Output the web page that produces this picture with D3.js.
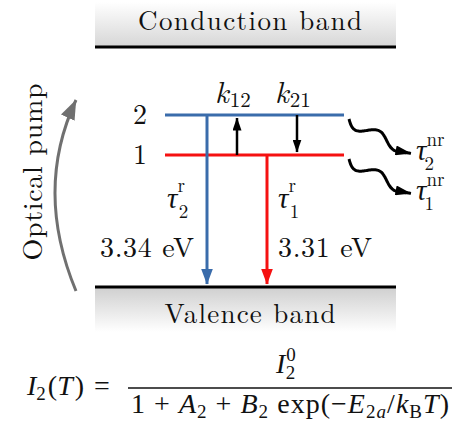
<!DOCTYPE html>
<meta charset="utf-8">
<script src="https://d3js.org/d3.v7.min.js"></script>
<style>
  body { margin: 0; background: #fff; }
</style>
<div id="my_dataviz"></div>
<script>

// data
var bands = ["Conduction band", "Valence band"];
var levels = ["2", "1"];
var levelColors = ["#3a6cab", "#f51111"];
var radiative = [
  {level: "2", col: "r2", tau: "2", energy: "3.34 eV"},
  {level: "1", col: "r1", tau: "1", energy: "3.31 eV"}
];
var transfer = [
  {name: "12", col: "k12", from: "1", to: "2"},
  {name: "21", col: "k21", from: "2", to: "1"}
];
var nonRadiative = ["2", "1"];
var columns = ["r2", "k12", "r1", "k21"];

var width = 452, height = 424;
var cm = "'Latin Modern Roman', 'Liberation Serif', serif";
var eqFont = "'Liberation Serif', 'Latin Modern Roman', serif";
var greek = "'Liberation Serif', 'DejaVu Serif', serif";

var svg = d3.select("#my_dataviz")
  .append("svg")
    .attr("width", width)
    .attr("height", height);

// scales
var y = d3.scaleOrdinal()
  .domain(["Conduction band", "2", "1", "Valence band"])
  .range([47, 115, 155, 287]);
var x = d3.scalePoint()
  .domain(columns)
  .range([207, 297]);
var color = d3.scaleOrdinal().domain(levels).range(levelColors);

var defs = svg.append("defs");

// band gradients
var g1 = defs.append("linearGradient").attr("id", "cbGrad")
  .attr("x1", 0).attr("y1", 0).attr("x2", 0).attr("y2", 1);
g1.append("stop").attr("offset", "0%").attr("stop-color", "#ffffff");
g1.append("stop").attr("offset", "100%").attr("stop-color", "#d6d6d6");
var g2 = defs.append("linearGradient").attr("id", "vbGrad")
  .attr("x1", 0).attr("y1", 0).attr("x2", 0).attr("y2", 1);
g2.append("stop").attr("offset", "0%").attr("stop-color", "#cfcfcf");
g2.append("stop").attr("offset", "100%").attr("stop-color", "#ffffff");

svg.append("rect")
  .attr("x", 95).attr("y", 2).attr("width", 301).attr("height", y("Conduction band") - 2)
  .attr("fill", "url(#cbGrad)");
svg.append("rect")
  .attr("x", 95).attr("y", y("Valence band")).attr("width", 301).attr("height", 45)
  .attr("fill", "url(#vbGrad)");

svg.selectAll(".band")
  .data(bands)
  .enter()
  .append("line")
    .attr("class", "band")
    .attr("x1", 95).attr("x2", 396)
    .attr("y1", function(d) { return y(d); })
    .attr("y2", function(d) { return y(d); })
    .attr("stroke", "#000")
    .attr("stroke-width", 3);

function label(sel, size) {
  return sel.style("font-family", cm).attr("font-size", size).attr("fill", "#111");
}

svg.selectAll(".bandLabel")
  .data(bands)
  .enter()
  .append("text")
    .attr("class", "bandLabel")
    .attr("x", 250)
    .attr("y", function(d, i) { return i == 0 ? y(d) - 17 : y(d) + 36; })
    .attr("text-anchor", "middle")
    .call(label, 27)
    .attr("textLength", function(d, i) { return i == 0 ? 224 : 171; })
    .attr("lengthAdjust", "spacing")
    .text(function(d) { return d; });

// arrow markers
function marker(id, col, w, l) {
  defs.append("marker")
    .attr("id", id)
    .attr("viewBox", "0 0 " + l + " " + w)
    .attr("refX", l - 0.5).attr("refY", w / 2)
    .attr("markerUnits", "userSpaceOnUse")
    .attr("markerWidth", l).attr("markerHeight", w)
    .attr("orient", "auto")
    .append("path")
      .attr("d", "M0,0L" + l + "," + (w / 2) + "L0," + w + "Z")
      .attr("fill", col);
}
levels.forEach(function(d) { marker("head" + d, color(d), 12, 16); });
marker("headK", "#000", 9, 13);
marker("headW", "#000", 10, 16);
marker("headP", "#707070", 15, 20);

// energy levels
svg.selectAll(".level")
  .data(levels)
  .enter()
  .append("line")
    .attr("class", "level")
    .attr("x1", 165).attr("x2", 344)
    .attr("y1", function(d) { return y(d); })
    .attr("y2", function(d) { return y(d); })
    .attr("stroke", function(d) { return color(d); })
    .attr("stroke-width", 3);

svg.selectAll(".levelLabel")
  .data(levels)
  .enter()
  .append("text")
    .attr("class", "levelLabel")
    .attr("x", 140)
    .attr("y", function(d) { return y(d) + 9; })
    .attr("text-anchor", "middle")
    .call(label, 28)
    .text(function(d) { return d; });

// radiative transitions
svg.selectAll(".rad")
  .data(radiative)
  .enter()
  .append("line")
    .attr("class", "rad")
    .attr("x1", function(d) { return x(d.col); })
    .attr("x2", function(d) { return x(d.col); })
    .attr("y1", function(d) { return y(d.level); })
    .attr("y2", y("Valence band") - 3)
    .attr("stroke", function(d) { return color(d.level); })
    .attr("stroke-width", 3)
    .attr("marker-end", function(d) { return "url(#head" + d.level + ")"; });

var tauR = svg.selectAll(".tauR")
  .data(radiative)
  .enter()
  .append("text")
    .attr("class", "tauR")
    .attr("x", function(d, i) { return i == 0 ? x(d.col) - 40 : x(d.col) + 11; })
    .attr("y", 208)
    .call(label, 29);
tauR.append("tspan").style("font-family", greek).attr("font-style", "italic").text("τ");
tauR.append("tspan").attr("font-size", 19).attr("dy", -16).text("r");
tauR.append("tspan").attr("font-size", 19).attr("dx", -6).attr("dy", 26)
  .text(function(d) { return d.tau; });

svg.selectAll(".energy")
  .data(radiative)
  .enter()
  .append("text")
    .attr("class", "energy")
    .attr("x", function(d, i) { return i == 0 ? x(d.col) - 107 : x(d.col) + 11; })
    .attr("y", 257)
    .call(label, 28)
    .attr("textLength", 94)
    .attr("lengthAdjust", "spacing")
    .text(function(d) { return d.energy; });

// transfer between levels
svg.selectAll(".k")
  .data(transfer)
  .enter()
  .append("line")
    .attr("class", "k")
    .attr("x1", function(d) { return x(d.col); })
    .attr("x2", function(d) { return x(d.col); })
    .attr("y1", function(d) { return y(d.from); })
    .attr("y2", function(d) { return y(d.to) + (y(d.to) < y(d.from) ? 3 : -3); })
    .attr("stroke", "#000")
    .attr("stroke-width", 2.5)
    .attr("marker-end", "url(#headK)");

var kLab = svg.selectAll(".kLab")
  .data(transfer)
  .enter()
  .append("text")
    .attr("class", "kLab")
    .attr("x", function(d) { return x(d.col) - 22; })
    .attr("y", 103)
    .call(label, 30);
kLab.append("tspan").attr("font-style", "italic").text("k");
kLab.append("tspan").attr("font-size", 21).attr("dy", 4).attr("dx", 1).text(function(d) { return d.name; });

// non-radiative (wavy) decay
function wavy(x0, y0, x1, y1) {
  var pts = [], n = 80, dx = x1 - x0, dy = y1 - y0;
  var len = Math.sqrt(dx * dx + dy * dy), nx = -dy / len, ny = dx / len;
  for (var i = 0; i <= n; i++) {
    var t = i / n;
    var a = 7 * Math.sin(t * Math.PI * 3.2) * (1 - t * 0.55);
    pts.push([x0 + dx * t + nx * a, y0 + dy * t + ny * a]);
  }
  return d3.line().curve(d3.curveBasis)(pts);
}
svg.selectAll(".wave")
  .data(nonRadiative)
  .enter()
  .append("path")
    .attr("class", "wave")
    .attr("d", function(d) { return wavy(349, y(d) + 4, 410, y(d) + 40); })
    .attr("fill", "none")
    .attr("stroke", "#000")
    .attr("stroke-width", 3)
    .attr("marker-end", "url(#headW)");

var tauNR = svg.selectAll(".tauNR")
  .data(nonRadiative)
  .enter()
  .append("text")
    .attr("class", "tauNR")
    .attr("x", 416)
    .attr("y", function(d) { return y(d) + 45; })
    .call(label, 29);
tauNR.append("tspan").style("font-family", greek).attr("font-style", "italic").text("τ");
tauNR.append("tspan").attr("font-size", 19).attr("dy", -14).text("nr");
tauNR.append("tspan").attr("font-size", 19).attr("dx", -20).attr("dy", 24)
  .text(function(d) { return d; });

// optical pump
svg.append("path")
  .attr("d", "M76,291Q34,190 76,100")
  .attr("fill", "none")
  .attr("stroke", "#707070")
  .attr("stroke-width", 3)
  .attr("marker-end", "url(#headP)");

svg.append("text")
  .attr("transform", "translate(42,172) rotate(-90)")
  .attr("text-anchor", "middle")
  .call(label, 28)
  .attr("textLength", 177)
  .attr("lengthAdjust", "spacing")
  .text("Optical pump");

// rate equation
var eq = svg.append("g");
function eqText(x0, y0) {
  return eq.append("text").attr("x", x0).attr("y", y0)
    .style("font-family", eqFont).attr("font-size", 28).attr("fill", "#111");
}
var lhs = eqText(27, 395);
lhs.append("tspan").attr("font-style", "italic").text("I");
lhs.append("tspan").attr("font-size", 19).attr("dy", 5).text("2");
lhs.append("tspan").attr("dy", -5).attr("dx", 2).text("(");
lhs.append("tspan").attr("font-style", "italic").text("T");
lhs.append("tspan").attr("dx", 2).text(")");
lhs.append("tspan").attr("dx", 10).text("=");

eq.append("line")
  .attr("x1", 128).attr("x2", 452)
  .attr("y1", 388).attr("y2", 388)
  .attr("stroke", "#111").attr("stroke-width", 1.5);

var num = eqText(276, 373);
num.append("tspan").attr("font-style", "italic").text("I");
num.append("tspan").attr("font-size", 19).attr("dy", -12).attr("dx", 1).text("0");
num.append("tspan").attr("font-size", 19).attr("dx", -10).attr("dy", 18).text("2");

var den = eqText(131, 413)
  .attr("textLength", 318).attr("lengthAdjust", "spacing");
den.append("tspan").text("1 + ");
den.append("tspan").attr("font-style", "italic").text("A");
den.append("tspan").attr("font-size", 19).attr("dy", 5).text("2");
den.append("tspan").attr("dy", -5).text(" + ");
den.append("tspan").attr("font-style", "italic").text("B");
den.append("tspan").attr("font-size", 19).attr("dy", 5).text("2");
den.append("tspan").attr("dy", -5).text(" exp(−");
den.append("tspan").attr("font-style", "italic").text("E");
den.append("tspan").attr("font-size", 19).attr("dy", 5).text("2");
den.append("tspan").attr("font-size", 19).attr("font-style", "italic").text("a");
den.append("tspan").attr("dy", -5).text("/");
den.append("tspan").attr("font-style", "italic").text("k");
den.append("tspan").attr("font-size", 19).attr("dy", 5).text("B");
den.append("tspan").attr("dy", -5).attr("font-style", "italic").text("T");
den.append("tspan").text(")");

</script>
